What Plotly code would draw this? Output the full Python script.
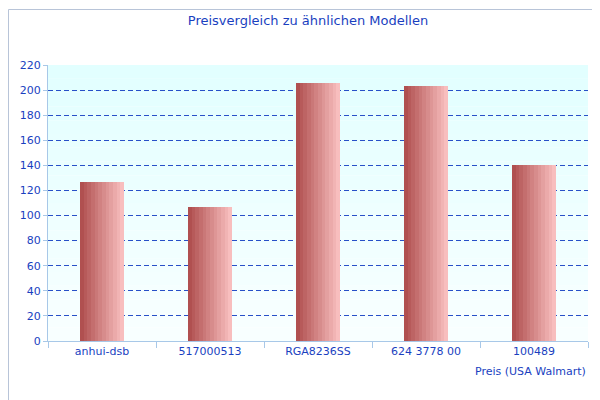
import plotly.graph_objects as go

categories = ["anhui-dsb", "517000513", "RGA8236SS", "624 3778 00", "100489"]
values = [127, 107, 206, 203, 140]
y_ticks = list(range(0, 221, 20))

fig = go.Figure()
n = 12
bw = 0.41
c0 = (176, 80, 80)
c1 = (248, 190, 190)
for i in range(n):
    t = i / (n - 1)
    col = "rgb(%d,%d,%d)" % tuple(round(a + (b - a) * t) for a, b in zip(c0, c1))
    fig.add_trace(go.Bar(x=categories, y=values, width=bw / n + 0.002,
                         offset=-bw / 2 + i * bw / n, marker=dict(color=col, line=dict(width=0)),
                         showlegend=False, hoverinfo="skip"))

PW, PH = 540, 276
shapes = []
nb = 20
for i in range(nb):
    t = i / (nb - 1)
    col = "rgb(%d,%d,%d)" % (round(226 + 22 * t), 255, 255)
    shapes.append(dict(type="rect", xref="paper", yref="paper", x0=0, x1=1,
                       y0=1 - (i + 1) / nb, y1=1 - i / nb, fillcolor=col,
                       line=dict(width=0), layer="below"))
shapes.append(dict(type="rect", xref="paper", yref="paper", x0=-39.5 / PW, x1=1 + 18.5 / PW,
                   y0=-65.5 / PH, y1=1 + 55.5 / PH, line=dict(color="#b8c4d8", width=1),
                   fillcolor="rgba(0,0,0,0)", layer="below"))

fig.update_layout(
    width=600, height=400, barmode="overlay", bargap=0,
    margin=dict(l=40, r=20, t=57, b=67),
    paper_bgcolor="white", plot_bgcolor="rgba(0,0,0,0)",
    font=dict(family="DejaVu Sans", size=11, color="#1a3fbf"),
    title=dict(text="Preisvergleich zu ähnlichen Modellen", x=0.5, xanchor="center",
               y=1 - 12 / 400, yanchor="middle", font=dict(size=13, color="#1a3fbf")),
    shapes=shapes,
    xaxis=dict(showgrid=False, showline=True, linecolor="#a8c8e8", ticks="outside",
               tickson="boundaries", tickcolor="#a8c8e8", ticklen=6, automargin=False,
               range=[-0.5, 4.5]),
    yaxis=dict(range=[0, 220], tickvals=y_ticks, showgrid=True, gridcolor="#2850c8",
               griddash="5px,3px", gridwidth=1, zeroline=False, showline=True, automargin=False,
               linecolor="#a8c8e8", ticks="outside", tickcolor="#a8c8e8", ticklen=4),
    annotations=[dict(text="Preis (USA Walmart)", xref="paper", yref="paper", x=1, y=-30 / PH,
                      xanchor="right", yanchor="middle", showarrow=False,
                      font=dict(size=11, color="#1a3fbf"))],
)
fig.write_html("out.html")
